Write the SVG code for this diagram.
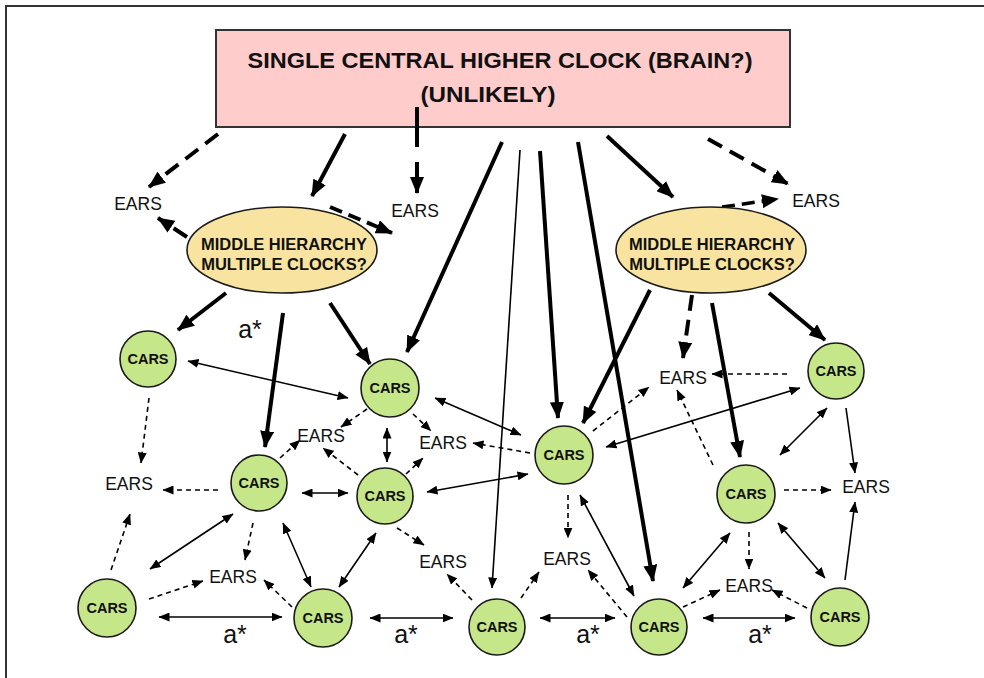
<svg xmlns="http://www.w3.org/2000/svg" width="984" height="678" viewBox="0 0 984 678">
<style>
.tk{stroke:#000;stroke-width:4;fill:none;marker-end:url(#A)}
.tkd{stroke:#000;stroke-width:4;fill:none;stroke-dasharray:16 9;marker-end:url(#A)}
.tn{stroke:#000;stroke-width:1.6;fill:none;marker-end:url(#a)}
.tb{stroke:#000;stroke-width:1.6;fill:none;marker-start:url(#a);marker-end:url(#a)}
.td{stroke:#000;stroke-width:1.6;fill:none;stroke-dasharray:5 4;marker-end:url(#a)}
.car{fill:#C6E68A;stroke:#1a1a1a;stroke-width:1.6}
.ct{font-family:"Liberation Sans",Arial,sans-serif;font-weight:bold;font-size:14.5px;text-anchor:middle;fill:#111}
.ear{font-family:"Liberation Sans",Arial,sans-serif;font-size:17.5px;text-anchor:middle;fill:#111}
.ell{fill:#F8E4A0;stroke:#1a1a1a;stroke-width:1.6}
.et{font-family:"Liberation Sans",Arial,sans-serif;font-weight:bold;font-size:16.5px;text-anchor:middle;fill:#111}
.ast{font-family:"Liberation Sans",Arial,sans-serif;font-size:25px;text-anchor:middle;fill:#111}
</style>
<defs>
<marker id="A" viewBox="0 0 17 14" refX="16" refY="7" markerWidth="17" markerHeight="14" markerUnits="userSpaceOnUse" orient="auto"><path d="M0,0 L17,7 L0,14 z" fill="#000"/></marker>
<marker id="a" viewBox="0 0 11 9" refX="10.5" refY="4.5" markerWidth="11" markerHeight="9" markerUnits="userSpaceOnUse" orient="auto-start-reverse"><path d="M0,0 L11,4.5 L0,9 z" fill="#000"/></marker>
</defs>
<rect x="0" y="0" width="984" height="678" fill="#fff"/>
<path d="M6,678 L6,6 L984,6" fill="none" stroke="#333" stroke-width="2"/>
<g id="central">
<rect x="216" y="30" width="574" height="97" fill="#FFCCCC" stroke="#333" stroke-width="2"/>
<text x="500" y="68" font-family="'Liberation Sans',Arial,sans-serif" font-weight="bold" font-size="22.5" text-anchor="middle" textLength="505" lengthAdjust="spacingAndGlyphs" fill="#111">SINGLE CENTRAL HIGHER CLOCK (BRAIN?)</text>
<text x="488" y="102" font-family="'Liberation Sans',Arial,sans-serif" font-weight="bold" font-size="22.5" text-anchor="middle" textLength="135" lengthAdjust="spacingAndGlyphs" fill="#111">(UNLIKELY)</text>
</g>
<g id="connectors">
<path class="tk" d="M345,134 L312,196"/>
<path class="tk" d="M502,142 L407,352"/>
<path class="tk" d="M540,151 L558,418"/>
<path class="tk" d="M578,142 L653,581"/>
<path class="tk" d="M607,136 L673,197"/>
<path class="tk" d="M226,293 L178,330"/>
<path class="tk" d="M283,313 L265,447"/>
<path class="tk" d="M330,303 L370,364"/>
<path class="tk" d="M650,290 L583,423"/>
<path class="tk" d="M712,303 L740,457"/>
<path class="tk" d="M769,293 L825,340"/>
<path class="tkd" d="M218,134 L149,187"/>
<path class="tkd" style="stroke-dasharray:40 15" d="M417,107 L417,193"/>
<path class="tkd" d="M708,139 L788,184"/>
<path class="tkd" d="M187,237 L158,218"/>
<path class="tkd" style="stroke-dasharray:13 7" d="M330,207 L392,233"/>
<path class="tkd" d="M692,295 L683,358"/>
<path class="tkd" style="stroke-width:3.5;stroke-dasharray:13 7" d="M722,207 L778,199"/>
<path class="tn" d="M520,150 L492,588"/>
<path class="tn" d="M846,408 L855,473"/>
<path class="tn" d="M845,580 L855,502"/>
<path class="tb" d="M188,361 L348,398"/>
<path class="tb" d="M387,428 L387,462"/>
<path class="tb" d="M302,493 L348,493"/>
<path class="tb" d="M427,492 L528,474"/>
<path class="tb" d="M435,398 L521,435"/>
<path class="tb" d="M606,447 L800,388"/>
<path class="tb" d="M827,408 L780,455"/>
<path class="tb" d="M778,523 L825,578"/>
<path class="tb" d="M730,533 L683,588"/>
<path class="tb" d="M703,618 L795,618"/>
<path class="tb" d="M540,618 L615,618"/>
<path class="tb" d="M580,495 L634,596"/>
<path class="tb" d="M370,618 L453,618"/>
<path class="tb" d="M159,617 L282,617"/>
<path class="tb" d="M376,533 L339,587"/>
<path class="tb" d="M283,523 L311,587"/>
<path class="tb" d="M150,569 L233,514"/>
<path class="td" d="M149,398 L141,463"/>
<path class="td" d="M218,490 L163,490"/>
<path class="td" d="M280,458 L300,440"/>
<path class="td" d="M367,409 L341,427"/>
<path class="td" d="M413,414 L431,431"/>
<path class="td" d="M358,475 L323,448"/>
<path class="td" d="M406,474 L423,458"/>
<path class="td" d="M530,453 L473,443"/>
<path class="td" d="M593,431 L649,387"/>
<path class="td" d="M787,374 L712,374"/>
<path class="td" d="M713,465 L677,390"/>
<path class="td" d="M784,490 L831,490"/>
<path class="td" d="M749,532 L749,569"/>
<path class="td" d="M683,607 L720,590"/>
<path class="td" d="M807,608 L772,590"/>
<path class="td" d="M521,598 L539,572"/>
<path class="td" d="M627,617 L588,570"/>
<path class="td" d="M568,495 L568,538"/>
<path class="td" d="M472,600 L447,574"/>
<path class="td" d="M397,528 L424,545"/>
<path class="td" d="M253,523 L245,560"/>
<path class="td" d="M292,607 L264,580"/>
<path class="td" d="M149,599 L203,581"/>
<path class="td" d="M111,570 L130,514"/>
</g>
<g id="mid-left"><ellipse class="ell" cx="282" cy="250" rx="95" ry="43"/><text class="et" x="284" y="250">MIDDLE HIERARCHY</text><text class="et" x="284" y="270">MULTIPLE CLOCKS?</text></g>
<g id="mid-right"><ellipse class="ell" cx="711" cy="250" rx="95" ry="43"/><text class="et" x="712" y="250">MIDDLE HIERARCHY</text><text class="et" x="712" y="270">MULTIPLE CLOCKS?</text></g>
<g id="cars1"><circle class="car" cx="148" cy="359" r="28"/><text class="ct" x="148" y="364">CARS</text></g>
<g id="cars2"><circle class="car" cx="390" cy="388" r="29"/><text class="ct" x="390" y="393">CARS</text></g>
<g id="cars3"><circle class="car" cx="259" cy="483" r="28"/><text class="ct" x="259" y="488">CARS</text></g>
<g id="cars4"><circle class="car" cx="385" cy="496" r="28"/><text class="ct" x="385" y="501">CARS</text></g>
<g id="cars5"><circle class="car" cx="564" cy="455" r="29"/><text class="ct" x="564" y="460">CARS</text></g>
<g id="cars6"><circle class="car" cx="836" cy="371" r="28"/><text class="ct" x="836" y="376">CARS</text></g>
<g id="cars7"><circle class="car" cx="746" cy="494" r="29"/><text class="ct" x="746" y="499">CARS</text></g>
<g id="cars8"><circle class="car" cx="107" cy="608" r="29"/><text class="ct" x="107" y="613">CARS</text></g>
<g id="cars9"><circle class="car" cx="323" cy="618" r="29"/><text class="ct" x="323" y="623">CARS</text></g>
<g id="cars10"><circle class="car" cx="497" cy="627" r="28"/><text class="ct" x="497" y="632">CARS</text></g>
<g id="cars11"><circle class="car" cx="659" cy="627" r="28"/><text class="ct" x="659" y="632">CARS</text></g>
<g id="cars12"><circle class="car" cx="840" cy="617" r="29"/><text class="ct" x="840" y="622">CARS</text></g>
<g id="ears1"><text class="ear" x="138" y="210">EARS</text></g>
<g id="ears2"><text class="ear" x="415" y="217">EARS</text></g>
<g id="ears3"><text class="ear" x="816" y="207">EARS</text></g>
<g id="ears4"><text class="ear" x="683" y="384">EARS</text></g>
<g id="ears5"><text class="ear" x="321" y="442">EARS</text></g>
<g id="ears6"><text class="ear" x="443" y="449">EARS</text></g>
<g id="ears7"><text class="ear" x="129" y="490">EARS</text></g>
<g id="ears8"><text class="ear" x="866" y="493">EARS</text></g>
<g id="ears9"><text class="ear" x="233" y="583">EARS</text></g>
<g id="ears10"><text class="ear" x="443" y="568">EARS</text></g>
<g id="ears11"><text class="ear" x="567" y="565">EARS</text></g>
<g id="ears12"><text class="ear" x="749" y="592">EARS</text></g>
<g id="labels">
<text class="ast" x="250" y="338">a*</text>
<text class="ast" x="235" y="643">a*</text>
<text class="ast" x="406" y="643">a*</text>
<text class="ast" x="588" y="643">a*</text>
<text class="ast" x="760" y="643">a*</text>
</g>
</svg>
